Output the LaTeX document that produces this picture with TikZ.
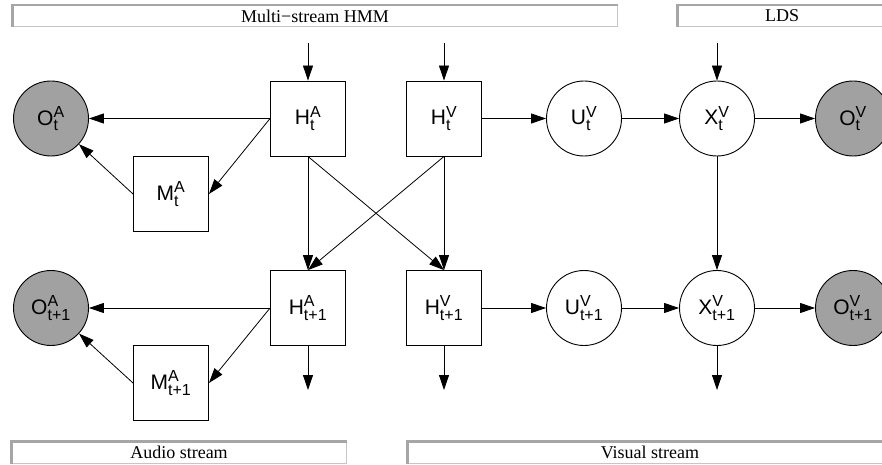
\documentclass[tikz,border=0pt]{standalone}
\usepackage{amsmath}
\usepackage{fontspec}
\setmainfont{Liberation Serif}
\newfontfamily\sansvar{Liberation Sans}
\DeclareMathSizes{21}{21}{16}{12}
\newcommand*{\rv}[3]{$\text{#1}^{\text{#2}}_{\text{#3}}$}
\usetikzlibrary{arrows.meta}
\usetikzlibrary{positioning}
\definecolor{obsgray}{gray}{0.63}
\tikzset{
    dep/.style = {line width=0.8pt,-{Triangle[length=15pt,width=10pt]}},
    hidden/.style = {draw,line width=0.9pt,minimum size=75pt,inner sep=0,
        font=\sansvar\fontsize{21}{24}\selectfont},
    cont/.style = {hidden,circle},
    obs/.style = {cont,fill=obsgray}
}
\tikzset{
    banner/.style = {draw=gray!45,line width=1pt,fill=white,inner sep=0,
        minimum height=21pt,font=\fontsize{18}{20}\selectfont},
    bshade/.style = {draw=gray!70,line width=2.5pt}
}
\begin{document}
\begin{tikzpicture}[x=1pt,y=-1pt]
        \useasboundingbox (0,0) rectangle (882,465);
        % Banners
        \node[banner,minimum width=604pt] (hmm) at (315,16) {Multi−stream HMM};
        \node[banner,minimum width=208pt] (lds) at (782,16) {LDS};
        \node[banner,minimum width=334pt] (audio) at (179,452.5) {Audio stream};
        \node[banner,minimum width=484pt] (visual) at (650,452.5) {Visual stream};
        \foreach \b in {hmm,lds,audio,visual}
            \draw[bshade] (\b.south west) |- (\b.north east);
        % Slice t
        \node[obs] (Oat) at (51,118.5) {\rv{O}{A}{t}};
        \node[hidden] (Mat) at (171,194) {\rv{M}{A}{t}};
        \node[hidden] (Hat) at (308,118.5) {\rv{H}{A}{t}};
        \node[hidden] (Hvt) at (444,118.5) {\rv{H}{V}{t}};
        \node[cont] (Uvt) at (584,118.5) {\rv{U}{V}{t}};
        \node[cont] (Xvt) at (717,118.5) {\rv{X}{V}{t}};
        \node[obs] (Ovt) at (853,118.5) {\rv{O}{V}{t}};
        % Slice t+1
        \node[obs] (Oan) at (51,308) {\rv{O}{A}{t+1}};
        \node[hidden] (Man) at (171,383) {\rv{M}{A}{t+1}};
        \node[hidden] (Han) at (308,308) {\rv{H}{A}{t+1}};
        \node[hidden] (Hvn) at (444,308) {\rv{H}{V}{t+1}};
        \node[cont] (Uvn) at (584,308) {\rv{U}{V}{t+1}};
        \node[cont] (Xvn) at (717,308) {\rv{X}{V}{t+1}};
        \node[obs] (Ovn) at (853,308) {\rv{O}{V}{t+1}};
        % Loose ends
        \path (308,43) coordinate (inHa)
            (444,43) coordinate (inHv)
            (717,43) coordinate (inXv)
            (308,390) coordinate (outHa)
            (444,390) coordinate (outHv)
            (717,390) coordinate (outXv)
        ;
        \foreach \src/\dest in {inHa/Hat.north,inHv/Hvt.north,inXv/Xvt.north,
                Han.south/outHa,Hvn.south/outHv,Xvn.south/outXv}
            \draw[dep] (\src) -- (\dest);
        % Audio stream
        \foreach \s in {t,n}
            \foreach \src/\dest in {Ha\s.west/Oa\s,Ha\s.west/Ma\s.east,Ma\s.west/Oa\s}
                \draw[dep] (\src) -- (\dest);
        % Visual stream
        \foreach \s in {t,n}
            \foreach \src/\dest in {Hv\s/Uv\s,Uv\s/Xv\s,Xv\s/Ov\s}
                \draw[dep] (\src) -- (\dest);
        % Transitions
        \foreach \src/\dest in {Hat/Han,Hat/Hvn,Hvt/Han,Hvt/Hvn}
            \draw[dep] (\src.south) -- (\dest.north);
        \draw[dep] (Xvt) -- (Xvn);
    \end{tikzpicture}
\end{document}
